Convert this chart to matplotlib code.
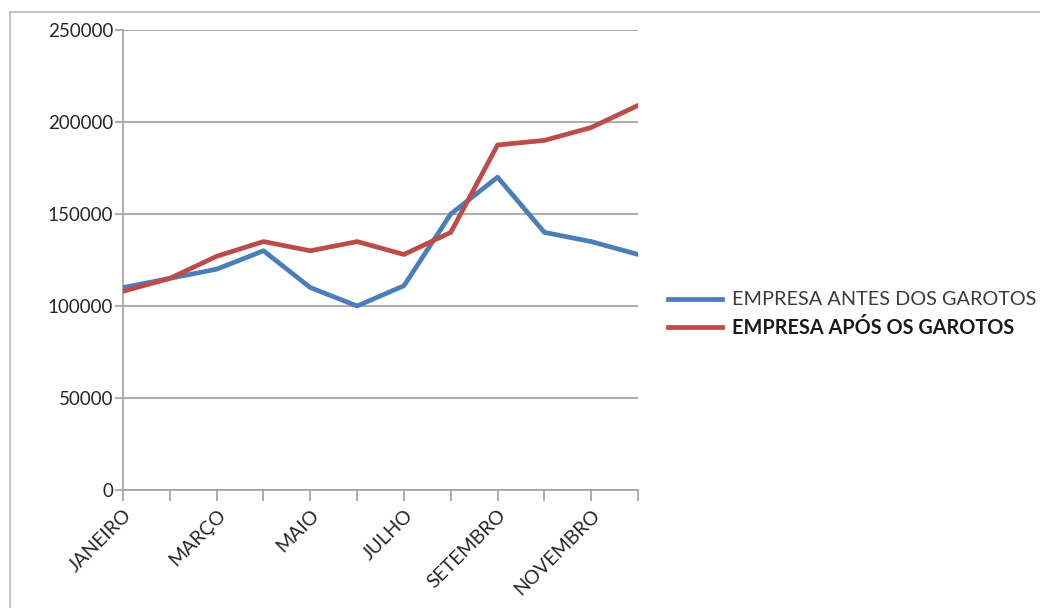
import matplotlib.pyplot as plt
from matplotlib.lines import Line2D

plt.rcParams['font.family'] = ['Lato', 'DejaVu Sans']

meses = ['JANEIRO', 'FEVEREIRO', 'MARÇO', 'ABRIL', 'MAIO', 'JUNHO',
         'JULHO', 'AGOSTO', 'SETEMBRO', 'OUTUBRO', 'NOVEMBRO', 'DEZEMBRO']
antes = [110000, 115000, 120000, 130000, 110000, 100000,
         111000, 150000, 170000, 140000, 135000, 128000]
apos = [108000, 115000, 127000, 135000, 130000, 135000,
        128000, 140000, 187500, 190000, 197000, 209000]
serie_nomes = ['EMPRESA ANTES DOS GAROTOS', 'EMPRESA APÓS OS GAROTOS']
y_ticks = [0, 50000, 100000, 150000, 200000, 250000]

azul = '#4A7EBB'
vermelho = '#BE4B48'
cinza = '#A6A6A6'

fig = plt.figure(figsize=(10.4, 6.08), dpi=100)
ax = fig.add_axes([0.1183, 0.1941, 0.4952, 0.7566])

x = list(range(len(meses)))
ax.plot(x, antes, color=azul, lw=3.4, solid_joinstyle='round', zorder=3)
ax.plot(x, apos, color=vermelho, lw=3.4, solid_joinstyle='round', zorder=3)

ax.set_xlim(0, len(meses) - 1)
ax.set_ylim(0, 250000)
ax.set_yticks(y_ticks)
ax.set_yticklabels([str(v) for v in y_ticks], fontsize=13.5, color='#262626')
ax.set_xticks(x)
# only every other month gets a label
ax.set_xticklabels([m if i % 2 == 0 else '' for i, m in enumerate(meses)],
                   rotation=45, ha='right', rotation_mode='anchor',
                   fontsize=14, color='#262626')

ax.yaxis.grid(True, color=cinza, lw=1.3)
ax.set_axisbelow(True)
for s in ['top', 'right']:
    ax.spines[s].set_visible(False)
for s in ['left', 'bottom']:
    ax.spines[s].set_color(cinza)
    ax.spines[s].set_linewidth(1.3)
ax.tick_params(axis='y', length=6, width=1.3, color=cinza, pad=1)
ax.tick_params(axis='x', length=8, width=1.3, color=cinza, pad=4)

handles = [Line2D([0], [0], color=azul, lw=3.4),
           Line2D([0], [0], color=vermelho, lw=3.4)]
leg = fig.legend(handles, serie_nomes, loc='center left',
                 bbox_to_anchor=(0.642, 0.482), frameon=False,
                 fontsize=14.3, handlelength=2.75, handletextpad=0.5,
                 labelspacing=0.5, borderaxespad=0, borderpad=0)
leg.get_texts()[0].set_color('#3a3a3a')
leg.get_texts()[1].set_color('#1a1a1a')
leg.get_texts()[1].set_fontweight('bold')

# outer frame of the chart area
fig.add_artist(Line2D([10 / 1040, 10 / 1040], [0, 1 - 12 / 608],
                      transform=fig.transFigure, color='#BFBFBF', lw=1.3))
fig.add_artist(Line2D([10 / 1040, 1], [1 - 12 / 608, 1 - 12 / 608],
                      transform=fig.transFigure, color='#BFBFBF', lw=1.3))

fig.savefig('out.png', dpi=100)
